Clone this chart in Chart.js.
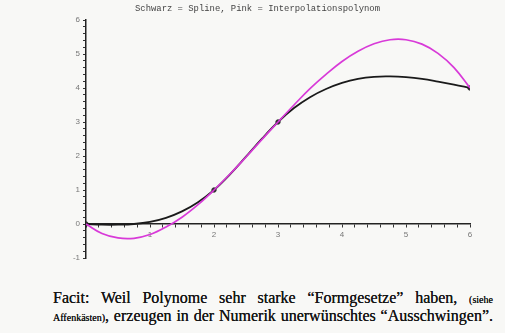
<!DOCTYPE html>
<html>
<head>
<meta charset="utf-8">
<script src="https://cdn.jsdelivr.net/npm/chart.js@4"></script>
<style>
    html, body { margin: 0; padding: 0; background: #f8f8f6; }
    .wrap { position: relative; width: 505px; height: 333px; overflow: hidden; }
    .canvas-container { position: absolute; left: 0; top: 0; width: 505px; height: 280px; }
    .title { position: absolute; left: 135px; top: 4px; font-family: "Liberation Mono", "DejaVu Sans Mono", monospace; font-size: 8.9px; color: #444; white-space: nowrap; }
    .facit { position: absolute; left: 53px; width: 440px; font-family: "Liberation Serif", "DejaVu Serif", serif; font-size: 16px; line-height: 18px; color: #151515; text-shadow: 0 0 0.4px #151515; text-align: justify; text-align-last: justify; white-space: nowrap; }
    .facit small { font-size: 10px; }
    .l1 { top: 289px; }
    .l2 { top: 307px; }
</style>
</head>
<body>
<div class="wrap">
    <div class="canvas-container"><canvas id="spline_graph"></canvas></div>
    <div class="title">Schwarz = Spline, Pink = Interpolationspolynom</div>
    <div class="facit l1">Facit: Weil Polynome sehr starke “Formgesetze” haben, <small>(siehe</small></div>
    <div class="facit l2"><small>Affenkästen)</small>, erzeugen in der Numerik unerwünschtes “Ausschwingen”.</div>
</div>
<script>
// Werte
const xs = [0, 0.25, 0.5, 0.75, 1, 1.25, 1.5, 1.75, 2, 2.25, 2.5, 2.75, 3, 3.25, 3.5, 3.75, 4, 4.25, 4.5, 4.75, 5, 5.25, 5.5, 5.75, 6];
const splineY = [0, -0.02, -0.02, 0, 0.06, 0.18, 0.37, 0.64, 1.0, 1.46, 1.98, 2.51, 3.0, 3.41, 3.73, 3.97, 4.15, 4.27, 4.33, 4.34, 4.32, 4.27, 4.19, 4.1, 4.0];
const polyY = [0, -0.28, -0.41, -0.42, -0.31, -0.09, 0.2, 0.57, 1.0, 1.47, 1.97, 2.49, 3.0, 3.5, 3.98, 4.4, 4.78, 5.08, 5.3, 5.42, 5.42, 5.29, 5.02, 4.6, 4.0];
const nodesX = [0, 2, 3, 6];
const nodesY = [0, 1, 3, 4];
const xLabels = [1, 2, 3, 4, 5, 6];
const yLabels = [-1, 0, 1, 2, 3, 4, 5, 6];

function toPoints(xv, yv) {
    return xv.map(function (x, i) {
        return { x: x, y: yv[i] };
    });
}

function intLabel(list) {
    return function (value) {
        let r = Math.round(value);
        if (Math.abs(value - r) < 1e-6 && list.indexOf(r) >= 0) {
            return String(r);
        }
        return '';
    };
}

const ctx = document.getElementById('spline_graph');
new Chart(ctx, {
    type: 'scatter',
    data: {
        datasets: [{
            label: 'Interpolationspolynom',
            data: toPoints(xs, polyY),
            showLine: true,
            borderColor: '#d83ad8',
            borderWidth: 1.7,
            pointRadius: 0,
            tension: 0.4,
        }, {
            label: 'Spline',
            data: toPoints(xs, splineY),
            showLine: true,
            borderColor: '#1a1a1a',
            borderWidth: 1.8,
            pointRadius: 0,
            tension: 0.4,
        }, {
            label: 'Stützstellen',
            data: toPoints(nodesX, nodesY),
            showLine: false,
            backgroundColor: '#333',
            borderColor: '#333',
            pointRadius: 2.2,
        }]
    },
    options: {
        responsive: true,
        maintainAspectRatio: false,
        animation: false,
        layout: {
            padding: { left: 66, right: 35, top: 20, bottom: 22 }
        },
        plugins: {
            legend: { display: false },
            tooltip: { enabled: false },
            title: { display: false }
        },
        scales: {
            x: {
                type: 'linear',
                min: 0,
                max: 6,
                position: { y: 0 },
                border: { display: true, color: '#222', width: 1.5 },
                grid: { drawOnChartArea: false, drawTicks: true, tickLength: 3, tickColor: '#333' },
                ticks: {
                    stepSize: 0.2,
                    autoSkip: false,
                    maxRotation: 0,
                    padding: 3,
                    color: '#777',
                    font: { family: 'Liberation Sans', size: 8 },
                    callback: intLabel(xLabels)
                }
            },
            y: {
                type: 'linear',
                min: -1,
                max: 6,
                position: 'left',
                afterFit: function (scale) {
                    scale.width = 20;
                },
                border: { display: true, color: '#222', width: 1.5 },
                grid: { drawOnChartArea: false, drawTicks: true, tickLength: 3, tickColor: '#333' },
                ticks: {
                    stepSize: 0.2,
                    autoSkip: false,
                    padding: 3,
                    color: '#777',
                    font: { family: 'Liberation Sans', size: 8 },
                    callback: intLabel(yLabels)
                }
            }
        }
    }
});
</script>
</body>
</html>
